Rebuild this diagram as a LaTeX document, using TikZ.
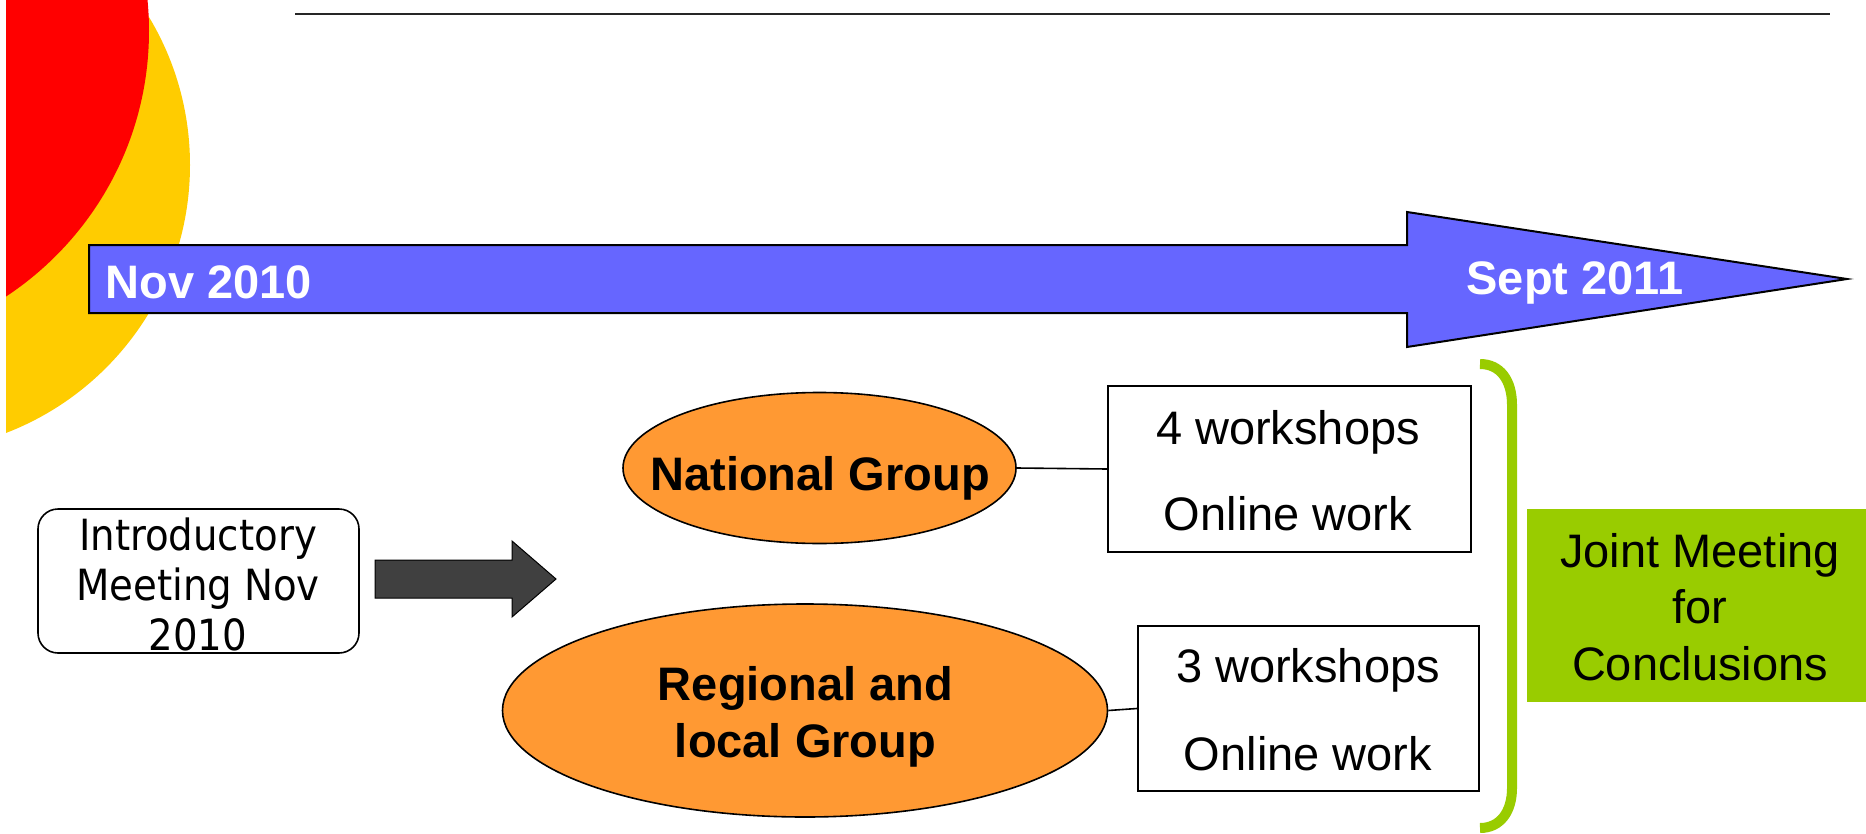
\documentclass[tikz,border=0pt]{standalone}
\usepackage{fontspec}
\setmainfont{Liberation Sans}
\newfontfamily\condfont{DejaVu Sans Condensed}
\usetikzlibrary{shapes.geometric}
\definecolor{tlblue}{HTML}{6666FF}
\definecolor{ovorange}{HTML}{FF9933}
\definecolor{lgreen}{HTML}{99CC00}
\definecolor{dkarrow}{HTML}{404040}
\definecolor{dotyellow}{HTML}{FFCC00}
\definecolor{dotred}{HTML}{FF0000}
\begin{document}
\begin{tikzpicture}[x=0.5pt,y=-0.5pt,
  datelbl/.style={font=\bfseries\fontsize{23.5pt}{28pt}\selectfont, text=white, inner sep=0pt, anchor=base},
  grouplbl/.style={font=\bfseries\fontsize{23.5pt}{28pt}\selectfont, inner sep=0pt, anchor=base},
  plainlbl/.style={font=\fontsize{23.5pt}{28pt}\selectfont, inner sep=0pt, anchor=base},
  introlbl/.style={font=\condfont\fontsize{21.5pt}{25pt}\selectfont, inner sep=0pt, anchor=base},
  groupoval/.style={ellipse, draw=black, line width=0.8pt, fill=ovorange, inner sep=0pt},
  workbox/.style={rectangle, draw=black, line width=1pt, fill=white, inner sep=0pt},
  link/.style={draw=black, line width=0.8pt}
]
\useasboundingbox (0,0) rectangle (1866,834);
% decorative circles
\begin{scope}
  \clip (6,0) rectangle (1866,834);
  \fill[dotyellow] (-97,165) circle[radius=143.5pt];
  \fill[dotred] (-169,31) circle[radius=159pt];
\end{scope}
% top rule
\draw[line width=1.4pt, black!85] (295,14) -- (1830,14);
% timeline arrow
\draw[fill=tlblue, draw=black, line width=1pt, line join=miter]
  (89,245) -- (1407,245) -- (1407,212) -- (1847,279) -- (1407,347) -- (1407,313) -- (89,313) -- cycle;
\node[datelbl, anchor=base west] (nov) at (105,298) {Nov 2010};
\node[datelbl] (sept) at (1575,294) {Sept 2011};
% introductory meeting
\node[rectangle, rounded corners=10pt, draw=black, line width=0.8pt, fill=white,
      minimum width=160.5pt, minimum height=72pt, inner sep=0pt] (intro) at (198.5,581) {};
\node[introlbl] (intro1) at (198,550) {Introductory};
\node[introlbl] (intro2) at (198,600) {Meeting Nov};
\node[introlbl] (intro3) at (198,650) {2010};
% block arrow
\draw[fill=dkarrow, draw=black, line width=0.5pt, line join=miter]
  (375,560) -- (512,560) -- (512,541) -- (556,579) -- (512,617) -- (512,598) -- (375,598) -- cycle;
% groups
\node[groupoval, minimum width=196.5pt, minimum height=75.5pt] (nat) at (819.5,468) {};
\node[grouplbl] (natlbl) at (820,490) {National Group};
\node[groupoval, minimum width=302.5pt, minimum height=106.5pt] (reg) at (805,710.5) {};
\node[grouplbl] (reg1) at (805.5,700) {Regional and};
\node[grouplbl] (reg2) at (805.5,757) {local Group};
% work boxes
\node[workbox, minimum width=181.5pt, minimum height=83pt] (box1) at (1289.5,469) {};
\node[plainlbl] (b1a) at (1288,444) {4 workshops};
\node[plainlbl] (b1b) at (1288,530) {Online work};
\node[workbox, minimum width=170.5pt, minimum height=82.5pt] (box2) at (1308.5,708.5) {};
\node[plainlbl] (b2a) at (1308,682) {3 workshops};
\node[plainlbl] (b2b) at (1308,770) {Online work};
% connectors
\draw[link] (nat.east) -- (box1.west);
\draw[link] (reg.east) -- (box2.west);
% bracket
\draw[lgreen, line width=5pt]
  (1480,364) .. controls (1500,364) and (1512,380) .. (1512,405)
  -- (1512,788) .. controls (1512,812) and (1500,828) .. (1480,828);
% joint meeting
\node[rectangle, fill=lgreen, minimum width=169.5pt, minimum height=96.5pt, inner sep=0pt] (joint) at (1696.5,605.5) {};
\node[plainlbl] (j1) at (1700,567) {Joint Meeting};
\node[plainlbl] (j2) at (1700,623) {for};
\node[plainlbl] (j3) at (1700,680) {Conclusions};
\end{tikzpicture}
\end{document}
